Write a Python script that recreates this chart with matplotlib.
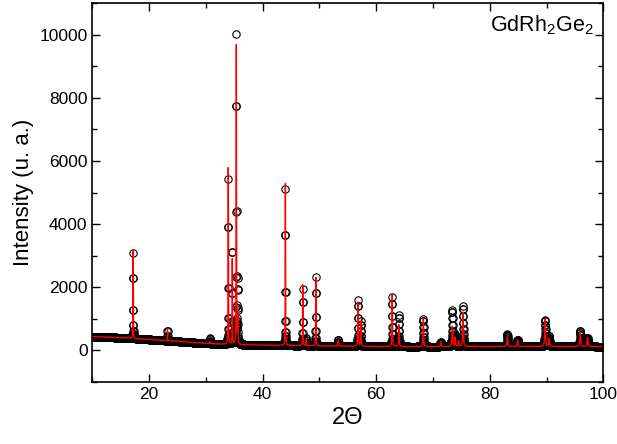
import numpy as np
import matplotlib.pyplot as plt
from matplotlib.ticker import MultipleLocator

plt.rcParams['font.family'] = ['Liberation Sans', 'DejaVu Sans']

# background level (counts) at a few angles
bg_angle = [10, 15, 20, 25, 30, 35, 40, 50, 60, 70, 80, 90, 100]
bg_level = [430, 395, 340, 280, 215, 175, 160, 135, 118, 112, 118, 118, 115]

# reflections: 2theta, observed / calculated height above background, FWHM
peak_pos = [17.18, 23.23, 30.70, 33.94, 34.65, 35.36, 35.62, 44.00, 47.06, 47.65,
            49.36, 53.30, 56.80, 57.30, 62.82, 64.00, 68.30, 71.35, 73.40, 73.90,
            74.50, 75.30, 83.10, 84.90, 89.76, 90.46, 95.94, 97.20]
peak_obs = [2700, 340, 170, 5250, 3200, 9830, 2000, 4950, 1800, 260,
            2170, 200, 1450, 780, 1560, 1000, 890, 150, 1160, 380,
            200, 1270, 390, 210, 840, 330, 500, 280]
peak_calc = [2800, 370, 60, 5600, 2700, 9500, 900, 5140, 1930, 220,
             2170, 185, 1400, 800, 1640, 690, 890, 165, 640, 290,
             180, 1090, 280, 205, 870, 255, 450, 285]
peak_fwhm = [0.06, 0.05, 0.08, 0.06, 0.06, 0.07, 0.08, 0.06, 0.07, 0.08,
             0.07, 0.12, 0.10, 0.10, 0.10, 0.12, 0.12, 0.14, 0.14, 0.14,
             0.14, 0.14, 0.16, 0.16, 0.16, 0.16, 0.18, 0.18]


def pattern(x, heights):
    # pseudo-Voigt peaks on top of the background
    y = np.interp(x, bg_angle, bg_level)
    for x0, h, w in zip(peak_pos, heights, peak_fwhm):
        u = (x - x0) / (w / 2)
        y = y + h * (0.7 / (1 + u ** 2) + 0.3 * np.exp(-np.log(2) * u ** 2))
    return y


two_theta = np.round(np.arange(10, 100.0001, 0.02), 3)
two_theta_fine = np.arange(10, 100.0001, 0.005)
i_obs = pattern(two_theta, peak_obs)
i_calc = pattern(two_theta_fine, peak_calc)

fig, ax = plt.subplots(figsize=(6.17, 4.44), dpi=100)
fig.subplots_adjust(left=0.1497, right=0.9778, bottom=0.1403, top=0.9925)

ax.plot(two_theta, i_obs, ls='none', marker='o', ms=5.3, mfc='none',
        mec='black', mew=0.8)
ax.plot(two_theta_fine, i_calc, color='red', lw=1.0)

ax.set_xlim(10, 100)
ax.set_ylim(-1000, 11000)
ax.xaxis.set_major_locator(MultipleLocator(20))
ax.xaxis.set_minor_locator(MultipleLocator(10))
ax.yaxis.set_major_locator(MultipleLocator(2000))
ax.yaxis.set_minor_locator(MultipleLocator(1000))
ax.tick_params(which='both', direction='in', top=True, right=True,
               labelsize=12.5, width=1)
ax.tick_params(which='major', length=6)
ax.tick_params(which='minor', length=3.5)
for s in ax.spines.values():
    s.set_linewidth(1.2)

ax.set_xlabel('2Θ', fontsize=17)
ax.set_ylabel('Intensity (u. a.)', fontsize=16)

ax.annotate('GdRh$_\\mathregular{2}$Ge$_\\mathregular{2}$', xy=(1, 1),
            xycoords='axes fraction', xytext=(-7, -7),
            textcoords='offset points', ha='right', va='top', fontsize=15.5)

fig.savefig('out.png', dpi=100)
